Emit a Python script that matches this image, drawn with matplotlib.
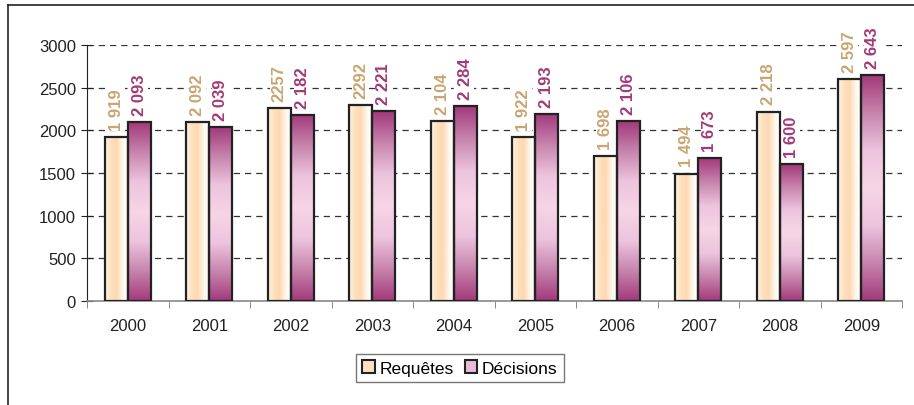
import numpy as np
import matplotlib.pyplot as plt
from matplotlib.colors import LinearSegmentedColormap
from matplotlib.lines import Line2D
from matplotlib.patches import Patch

plt.rcParams['font.family'] = ['Liberation Sans', 'DejaVu Sans']

years = ['2000', '2001', '2002', '2003', '2004', '2005', '2006', '2007', '2008', '2009']
requetes = [1919, 2092, 2257, 2292, 2104, 1922, 1698, 1494, 2218, 2597]
decisions = [2093, 2039, 2182, 2221, 2284, 2193, 2106, 1673, 1600, 2643]
req_labels = ['1 919', '2 092', '2257', '2292', '2 104', '1 922', '1 698', '1 494', '2 218', '2 597']
dec_labels = ['2 093', '2 039', '2 182', '2 221', '2 284', '2 193', '2 106', '1 673', '1 600', '2 643']

req_cmap = LinearSegmentedColormap.from_list(
    'req', ['#fff3e3', '#fde0bf', '#fdd9b2', '#fff8ee', '#ffffff'])
dec_cmap = LinearSegmentedColormap.from_list(
    'dec', ['#a3397b', '#c784ad', '#edc4de', '#f7d5e6', '#edc4de', '#c784ad', '#a3397b'])

fig = plt.figure(figsize=(9.14, 4.06), dpi=100)
ax = fig.add_axes([87 / 914, 1 - 302 / 406, (902 - 87) / 914, (302 - 46) / 406])

x = np.arange(len(years))
w = 0.285


def gradient_bars(xpos, heights, cmap, horizontal):
    bars = ax.bar(xpos, heights, w, facecolor='none', edgecolor='#222222',
                  linewidth=1.6, zorder=4)
    for b in bars:
        x0, y0 = b.get_x(), b.get_y()
        bw, bh = b.get_width(), b.get_height()
        if horizontal:
            grad = np.linspace(0, 1, 64).reshape(1, -1)
        else:
            grad = np.linspace(0, 1, 256).reshape(-1, 1)
        im = ax.imshow(grad, cmap=cmap, aspect='auto', origin='lower',
                       extent=[x0, x0 + bw, y0, y0 + bh], zorder=3,
                       interpolation='bilinear')
        im.set_clip_path(b)
    return bars


gradient_bars(x - w / 2, requetes, req_cmap, True)
gradient_bars(x + w / 2, decisions, dec_cmap, False)

label_box = dict(facecolor='white', edgecolor='none', pad=1.0)
for i in range(len(years)):
    ax.text(x[i] - w / 2, requetes[i] + 85, req_labels[i], rotation=90,
            ha='center', va='bottom', color='#c9a571', fontsize=12,
            fontweight='bold', zorder=5, bbox=label_box)
    ax.text(x[i] + w / 2, decisions[i] + 85, dec_labels[i], rotation=90,
            ha='center', va='bottom', color='#a23a76', fontsize=12,
            fontweight='bold', zorder=5, bbox=label_box)

ax.set_xlim(-0.5, len(years) - 0.5)
ax.set_ylim(0, 3000)
ax.set_yticks(range(0, 3001, 500))
ax.set_xticks(x)
ax.set_xticklabels(years)
ax.set_xticks(np.arange(-0.5, len(years)), minor=True)
ax.tick_params(axis='x', which='major', length=0, pad=12, labelsize=12, colors='#222222')
ax.tick_params(axis='x', which='minor', length=5, direction='out', color='#777777')
ax.tick_params(axis='y', direction='inout', length=8, labelsize=12, pad=4, colors='#222222')

for v in range(500, 3001, 500):
    ax.axhline(v, color='#333333', linestyle=(0, (5, 4)), linewidth=0.9, zorder=1)

for s in ['top', 'right']:
    ax.spines[s].set_visible(False)
ax.spines['left'].set_color('#222222')
ax.spines['bottom'].set_color('#888888')
ax.spines['bottom'].set_linewidth(1.2)

handles = [Patch(facecolor='#fde0bf', edgecolor='#222222', linewidth=1.5),
           Patch(facecolor='#e8bcd6', edgecolor='#222222', linewidth=1.5)]
leg = fig.legend(handles, ['Requêtes', 'Décisions'], loc='center',
                 bbox_to_anchor=(460 / 914, 1 - 369 / 406), ncol=2, fontsize=12.5,
                 frameon=True, fancybox=False, edgecolor='#555555',
                 handlelength=0.7, handleheight=0.7, handletextpad=0.3,
                 columnspacing=0.6, borderpad=0.35, borderaxespad=0)
leg.get_frame().set_linewidth(1.0)

# outer frame (left and top edges)
fig.add_artist(Line2D([8 / 914, 8 / 914], [0, 1 - 6 / 406], color='#222222', linewidth=1.2,
                      transform=fig.transFigure))
fig.add_artist(Line2D([8 / 914, 1], [1 - 6 / 406, 1 - 6 / 406], color='#222222', linewidth=1.2,
                      transform=fig.transFigure))

fig.savefig('out.png', dpi=100)
